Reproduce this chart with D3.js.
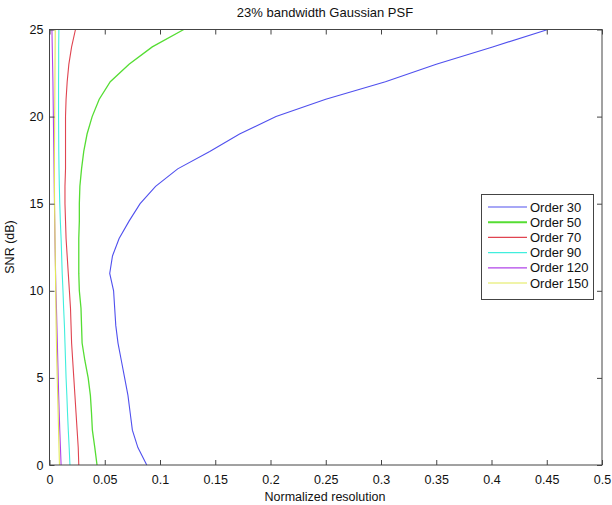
<!DOCTYPE html>
<html><head><meta charset="utf-8">
<script src="https://cdn.jsdelivr.net/npm/d3@7"></script>
<style>body{margin:0;background:#fff}svg{display:block}text{font-family:"Liberation Sans",Arial,sans-serif;fill:#111}</style>
</head><body>
<script>
const snr = d3.range(0, 26);
const order30 = [0.088,0.080,0.075,0.073,0.071,0.068,0.065,0.062,0.060,0.059,0.058,0.0545,0.057,0.063,0.072,0.082,0.096,0.116,0.145,0.172,0.205,0.25,0.304,0.35,0.401,0.451];
const order50 = [0.043,0.041,0.0388,0.038,0.037,0.035,0.032,0.0295,0.029,0.0285,0.027,0.0265,0.0265,0.0265,0.027,0.027,0.0275,0.029,0.031,0.034,0.0386,0.045,0.055,0.072,0.093,0.1215];
const order70 = [0.0265,0.026,0.025,0.024,0.023,0.022,0.021,0.020,0.0195,0.019,0.018,0.017,0.016,0.015,0.0145,0.014,0.014,0.0145,0.0145,0.0145,0.0145,0.015,0.016,0.0175,0.020,0.0235];
const order90 = [0.0185,0.0178,0.017,0.0163,0.0157,0.015,0.0145,0.014,0.0135,0.0128,0.0122,0.0115,0.011,0.0105,0.0098,0.0093,0.0089,0.0086,0.0084,0.0083,0.0082,0.0082,0.0082,0.0083,0.0083,0.0085];
const order120 = [0.0105,0.0099,0.0093,0.0088,0.0083,0.0079,0.0075,0.0071,0.0067,0.0063,0.0058,0.0055,0.0052,0.0049,0.0047,0.0045,0.0043,0.0041,0.0039,0.0037,0.0035,0.0033,0.0031,0.0028,0.0025,0.0022];
const order150 = [0.009,0.0086,0.0082,0.0078,0.0074,0.007,0.0066,0.0063,0.006,0.0058,0.0056,0.0054,0.0052,0.005,0.0048,0.0046,0.0045,0.0045,0.0045,0.0046,0.0047,0.0048,0.0049,0.005,0.0051,0.0052];
const seriesNames = ["Order 30","Order 50","Order 70","Order 90","Order 120","Order 150"];
const seriesValues = [order30, order50, order70, order90, order120, order150];
const colors = ["#5050ee","#55dd33","#e04450","#40eedd","#b044e8","#e2ea55"];
const xTicks = [0,0.05,0.1,0.15,0.2,0.25,0.3,0.35,0.4,0.45,0.5];
const yTicks = [0,5,10,15,20,25];

const W = 612, H = 505;
const m = {l:49.5, r:602, t:29.5, b:465};
const svg = d3.select("body").append("svg").attr("width", W).attr("height", H);
const x = d3.scaleLinear().domain([0,0.5]).range([m.l, m.r]);
const y = d3.scaleLinear().domain([0,25]).range([m.b, m.t]);

const line = d3.line().x(d => x(d[0])).y(d => y(d[1]));
seriesValues.forEach((vals, i) => {
  svg.append("path").datum(vals.map((v, j) => [v, snr[j]]))
    .attr("d", line).attr("fill","none").attr("stroke", colors[i])
    .attr("stroke-width", i===1 ? 1.3 : 1.1);
});

// box
svg.append("rect").attr("x", m.l).attr("y", m.t).attr("width", m.r - m.l).attr("height", m.b - m.t)
  .attr("fill","none").attr("stroke","#444").attr("stroke-width",1);

const tl = 5;
const gx = svg.append("g").attr("transform", `translate(0,${m.b})`)
  .call(d3.axisBottom(x).tickValues(xTicks).tickSizeInner(-tl).tickSizeOuter(0).tickPadding(8).tickFormat(d3.format("")));
const gxt = svg.append("g").attr("transform", `translate(0,${m.t})`)
  .call(d3.axisTop(x).tickValues(xTicks).tickSizeInner(-tl).tickSizeOuter(0).tickFormat(""));
const gy = svg.append("g").attr("transform", `translate(${m.l},0)`)
  .call(d3.axisLeft(y).tickValues(yTicks).tickSizeInner(-tl).tickSizeOuter(0).tickPadding(6));
const gyr = svg.append("g").attr("transform", `translate(${m.r},0)`)
  .call(d3.axisRight(y).tickValues(yTicks).tickSizeInner(-tl).tickSizeOuter(0).tickFormat(""));
[gx,gxt,gy,gyr].forEach(g => {
  g.select(".domain").remove();
  g.selectAll(".tick line").attr("stroke","#444");
  g.selectAll("text").style("font-family","'Liberation Sans',Arial,sans-serif").style("font-size","12.5px").attr("fill","#111");
});
gx.selectAll("text").attr("dy","0.9em");

svg.append("text").attr("x", 325).attr("y", 17).attr("text-anchor","middle")
  .style("font-size","13px").text("23% bandwidth Gaussian PSF");
svg.append("text").attr("x", 325).attr("y", 501).attr("text-anchor","middle")
  .style("font-size","12.5px").text("Normalized resolution");
svg.append("text").attr("transform", `translate(14,247) rotate(-90)`).attr("text-anchor","middle")
  .style("font-size","12.5px").text("SNR (dB)");

// legend
const lg = svg.append("g");
lg.append("rect").attr("x", 481.5).attr("y", 194.5).attr("width", 112).attr("height", 105)
  .attr("fill","#fff").attr("stroke","#444");
seriesNames.forEach((n, i) => {
  const yy = 207 + i * 15.2;
  lg.append("line").attr("x1", 488).attr("x2", 527).attr("y1", yy).attr("y2", yy)
    .attr("stroke", colors[i]).attr("stroke-width", i===1 ? 2 : 1.2);
  lg.append("text").attr("x", 530).attr("y", yy).attr("dy","0.36em")
    .style("font-size","13px").text(n);
});
</script>
</body></html>
